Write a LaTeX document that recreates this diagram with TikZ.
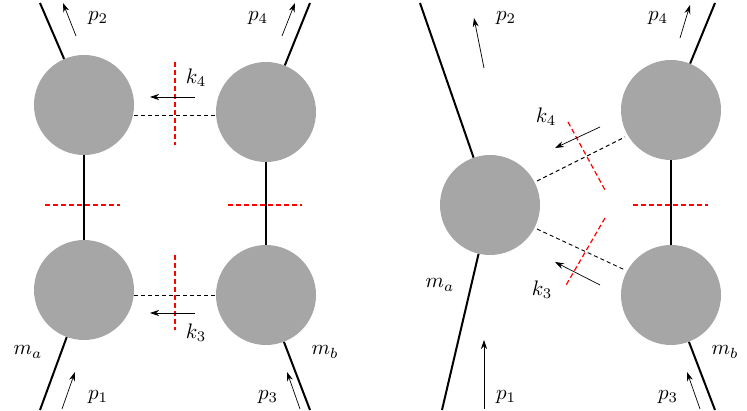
\documentclass[tikz,border=0pt]{standalone}
\usetikzlibrary{arrows.meta}
\newcommand{\lbl}[1]{\scalebox{2.1}{$#1$}}
\begin{document}
\begin{tikzpicture}[x=1pt,y=-1pt,
  blob/.style={circle,fill=black!35,minimum size=100pt,inner sep=0pt},
  leg/.style={line width=2pt},
  cut/.style={draw=red,color=red,dash pattern=on 5pt off 3pt,line width=1.2pt},
  prop/.style={dash pattern=on 4pt off 3pt,line width=0.9pt},
  mom/.style={-{Stealth[length=9pt,width=6pt]},line width=0.7pt},
  lab/.style={inner sep=0pt}]
\useasboundingbox (0,0) rectangle (747,411);
% left diagram
\node[blob] (A) at (84,105) {};
\node[blob] (B) at (266,112) {};
\node[blob] (C) at (84,290) {};
\node[blob] (D) at (266,295) {};
\coordinate (a1) at (40,3); \coordinate (a2) at (310,3);
\coordinate (a3) at (40,410); \coordinate (a4) at (310,410);
\draw[leg] (a1) -- (A); \draw[leg] (a2) -- (B);
\draw[leg] (C) -- (a3); \draw[leg] (D) -- (a4);
\draw[leg] (A) -- (C); \draw[leg] (B) -- (D);
\draw[prop] (A.east |- 0,115) -- (B.west |- 0,115);
\draw[prop] (C.east |- 0,295) -- (D.west |- 0,295);
\draw[cut] (45,205) -- (120,205);
\draw[cut] (228,205) -- (302,205);
\draw[cut] (175,62) -- (175,145);
\draw[cut] (175,255) -- (175,330);
\draw[mom] (195,97) -- (150,97);
\draw[mom] (195,313) -- (150,313);
\node[lab] (k4l) at (196,78) {\lbl{k_4}};
\node[lab] (k3l) at (196,333) {\lbl{k_3}};
\draw[mom] (76,36) -- (63,3);
\draw[mom] (282,36) -- (295,3);
\draw[mom] (62,409) -- (75,372);
\draw[mom] (300,409) -- (287,372);
\node[lab] (p2l) at (98,18) {\lbl{p_2}};
\node[lab] (p4l) at (258,18) {\lbl{p_4}};
\node[lab] (p1l) at (98,397) {\lbl{p_1}};
\node[lab] (p3l) at (268,397) {\lbl{p_3}};
\node[lab] (mal) at (28,352) {\lbl{m_a}};
\node[lab] (mbl) at (325,352) {\lbl{m_b}};
% right diagram
\node[blob] (E) at (490,205) {};
\node[blob] (F) at (671,110) {};
\node[blob] (G) at (671,295) {};
\coordinate (b1) at (420,3); \coordinate (b2) at (715,3);
\coordinate (b3) at (442,410); \coordinate (b4) at (715,410);
\draw[leg] (b1) -- (E); \draw[leg] (E) -- (b3);
\draw[leg] (b2) -- (F); \draw[leg] (G) -- (b4);
\draw[leg] (F) -- (G);
\draw[prop] (537,181) -- (625,137);
\draw[prop] (537,229) -- (625,270);
\draw[cut] (633,205) -- (708,205);
\draw[cut] (568,122) -- (605,190);
\draw[cut] (605,218) -- (565,287);
\draw[mom] (600,127) -- (555,148);
\draw[mom] (600,285) -- (555,262);
\node[lab] (k4r) at (546,117) {\lbl{k_4}};
\node[lab] (k3r) at (542,290) {\lbl{k_3}};
\draw[mom] (484,68) -- (474,18);
\draw[mom] (680,38) -- (690,5);
\draw[mom] (484,409) -- (484,340);
\draw[mom] (700,409) -- (687,372);
\node[lab] (p2r) at (506,18) {\lbl{p_2}};
\node[lab] (p4r) at (658,18) {\lbl{p_4}};
\node[lab] (p1r) at (506,397) {\lbl{p_1}};
\node[lab] (p3r) at (668,397) {\lbl{p_3}};
\node[lab] (mar) at (440,285) {\lbl{m_a}};
\node[lab] (mbr) at (725,352) {\lbl{m_b}};
\end{tikzpicture}
\end{document}
